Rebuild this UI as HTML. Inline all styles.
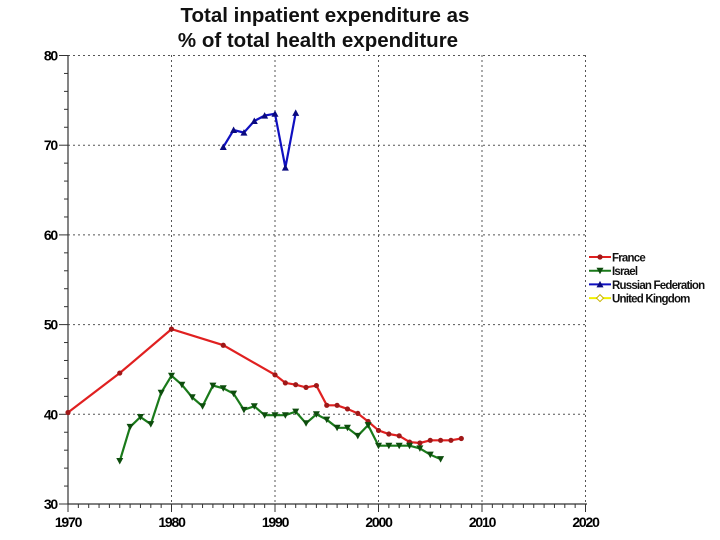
<!DOCTYPE html>
<html><head><meta charset="utf-8"><style>
html,body{margin:0;padding:0;background:#fff;}
svg{display:block;font-family:"Liberation Sans",Arial,sans-serif;}
</style></head><body>
<svg id="c" width="720" height="540" xmlns="http://www.w3.org/2000/svg">
<text x="325" y="22" font-size="20.5" font-weight="bold" text-anchor="middle" fill="#111">Total inpatient expenditure as</text>
<text x="318" y="47" font-size="20.5" font-weight="bold" text-anchor="middle" fill="#111">% of total health expenditure</text>
<g id="g"></g>
</svg>
<script>
var X=function(y){return 68+(y-1970)*10.35;};
var Y=function(v){return 504-(v-30)*8.97;};
var s='';
for(var yr=1980;yr<=2020;yr+=10){s+='<line x1="'+X(yr)+'" y1="55" x2="'+X(yr)+'" y2="504" stroke="#555" stroke-width="1" stroke-dasharray="2,3"/>';}
for(var v=40;v<=80;v+=10){s+='<line x1="68" y1="'+Y(v)+'" x2="587" y2="'+Y(v)+'" stroke="#555" stroke-width="1" stroke-dasharray="2,3"/>';}
s+='<line x1="68" y1="55" x2="68" y2="504" stroke="#333" stroke-width="1.2"/>';
s+='<line x1="68" y1="504" x2="587" y2="504" stroke="#333" stroke-width="1.2"/>';
for(var v=30;v<=80;v+=2){var w=(v%10==0)?9:4;s+='<line x1="'+(68-w)+'" y1="'+Y(v)+'" x2="68" y2="'+Y(v)+'" stroke="#333"/>';}
for(var v=30;v<=80;v+=10){s+='<text x="57" y="'+(Y(v)+5)+'" font-size="14" font-weight="bold" text-anchor="end" letter-spacing="-1.2">'+v+'</text>';}
for(var yr=1970;yr<=2020;yr++){var h=(yr%10==0)?8:4;s+='<line x1="'+X(yr)+'" y1="504" x2="'+X(yr)+'" y2="'+(504+h)+'" stroke="#333"/>';}
for(var yr=1970;yr<=2020;yr+=10){s+='<text x="'+X(yr)+'" y="527" font-size="14" font-weight="bold" text-anchor="middle" letter-spacing="-1.2">'+yr+'</text>';}
function series(data,start,col,dark,mk){
 var pts=data.map(function(v,i){return X(start+i).toFixed(1)+','+Y(v).toFixed(1);});
 s+='<polyline points="'+pts.join(' ')+'" fill="none" stroke="'+col+'" stroke-width="2.2"/>';
 data.forEach(function(v,i){var x=X(start+i),y=Y(v);s+=marker(x,y,mk,dark);});
}
function marker(x,y,mk,c){
 if(mk=='o')return '<circle cx="'+x+'" cy="'+y+'" r="2.6" fill="'+c+'"/>';
 if(mk=='v')return '<polygon points="'+(x-3.5)+','+(y-3)+' '+(x+3.5)+','+(y-3)+' '+x+','+(y+3.5)+'" fill="'+c+'"/>';
 if(mk=='^')return '<polygon points="'+(x-3.5)+','+(y+3)+' '+(x+3.5)+','+(y+3)+' '+x+','+(y-3.5)+'" fill="'+c+'"/>';
 if(mk=='d')return '<polygon points="'+x+','+(y-3.5)+' '+(x+3.5)+','+y+' '+x+','+(y+3.5)+' '+(x-3.5)+','+y+'" fill="#fff" stroke="'+c+'"/>';
}
var fr={1970:40.2,1975:44.6,1980:49.5,1985:47.7,1990:44.4,1991:43.5,1992:43.3,1993:43.0,1994:43.2,1995:41.0,1996:41.0,1997:40.6,1998:40.1,1999:39.2,2000:38.2,2001:37.8,2002:37.6,2003:36.9,2004:36.8,2005:37.1,2006:37.1,2007:37.1,2008:37.3};
var fy=Object.keys(fr).map(Number);
s+='<polyline points="'+fy.map(function(y){return X(y).toFixed(1)+','+Y(fr[y]).toFixed(1);}).join(' ')+'" fill="none" stroke="#e02020" stroke-width="2.2"/>';
fy.forEach(function(y){s+=marker(X(y),Y(fr[y]),'o','#a01818');});
series([34.8,38.6,39.7,38.9,42.4,44.3,43.3,41.9,40.9,43.2,42.9,42.3,40.5,40.9,39.9,39.9,39.9,40.3,39.0,40.0,39.4,38.5,38.5,37.6,38.8,36.5,36.5,36.5,36.5,36.2,35.5,35.0],1975,'#1a7a1a','#0d4d0d','v');
series([69.8,71.7,71.4,72.7,73.3,73.5,67.5,73.6],1985,'#1010c0','#0a0a80','^');
var L=[['France','#e02020','#a01818','o'],['Israel','#1a7a1a','#0d4d0d','v'],['Russian Federation','#1010c0','#0a0a80','^'],['United Kingdom','#f0f000','#c8b400','d']];
L.forEach(function(l,i){var y=257+i*13.7;s+='<line x1="589" y1="'+y+'" x2="611" y2="'+y+'" stroke="'+l[1]+'" stroke-width="2"/>'+marker(600,y,l[3],l[2])+'<text x="612" y="'+(y+4.5)+'" font-size="11.5" letter-spacing="-0.8" font-weight="bold" fill="#111">'+l[0]+'</text>';});
document.getElementById('g').innerHTML=s;
</script>
</body></html>
